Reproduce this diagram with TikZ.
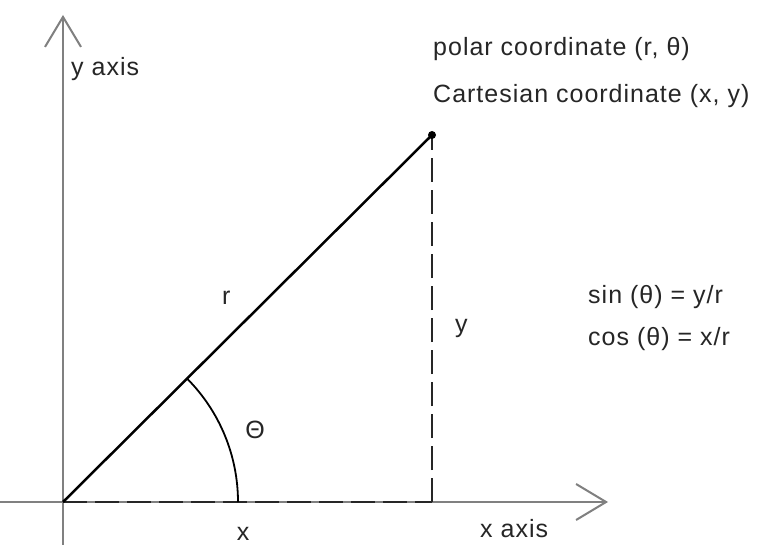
\documentclass[tikz,border=0pt]{standalone}
\usepackage{fontspec}
\setmainfont{Liberation Sans}[LetterSpace=4]
\usetikzlibrary{arrows.meta}
\begin{document}
\begin{tikzpicture}[x=1pt,y=-1pt,
  axis/.style={draw=black!50, line width=2pt, -{Straight Barb[length=30pt,width=36pt,line width=2pt]}},
  dashline/.style={draw=black!85, line width=2pt, dash pattern=on 24pt off 8pt},
  hyp/.style={draw=black, line width=2.5pt},
  txt/.style={inner sep=0pt, anchor=base west, font=\fontsize{25}{30}\selectfont, text=black!85}]
\useasboundingbox[fill=white] (0,0) rectangle (757,545);
\coordinate (O) at (63,502);
\coordinate (P) at (432,135);
\coordinate (F) at (432,502);
\coordinate (xs) at (0,502);
\coordinate (xe) at (608,502);
\coordinate (ys) at (63,545);
\coordinate (ye) at (63,15);
\draw[axis] (xs) -- (xe);
\draw[axis] (ys) -- (ye);
\draw[dashline] (O) -- (F);
\draw[dashline] (F) -- (P);
\draw[hyp] (O) -- (P);
\fill (P) circle (4pt);
\draw[black, line width=1.8pt] (O) ++(175,0) arc[start angle=0, end angle=-44.84, radius=175];
\node[txt] (yax) at (71,76) {y axis};
\node[txt] (xax) at (480,537) {x axis};
\node[txt] (polar) at (433,56) {polar coordinate (r, θ)};
\node[txt] (cart) at (433,103) {Cartesian coordinate (x, y)};
\node[txt] (sin) at (588,303) {sin (θ) = y/r};
\node[txt] (cos) at (588,345) {cos (θ) = x/r};
\node[txt] (ylab) at (455,332) {y};
\node[txt] (rlab) at (222,304) {r};
\node[txt, anchor=base] (xlab) at (243,540) {x};
\node[inner sep=0pt, font=\fontsize{25}{30}\selectfont, text=black!85] (th) at (255,430) {Θ};
\end{tikzpicture}
\end{document}
